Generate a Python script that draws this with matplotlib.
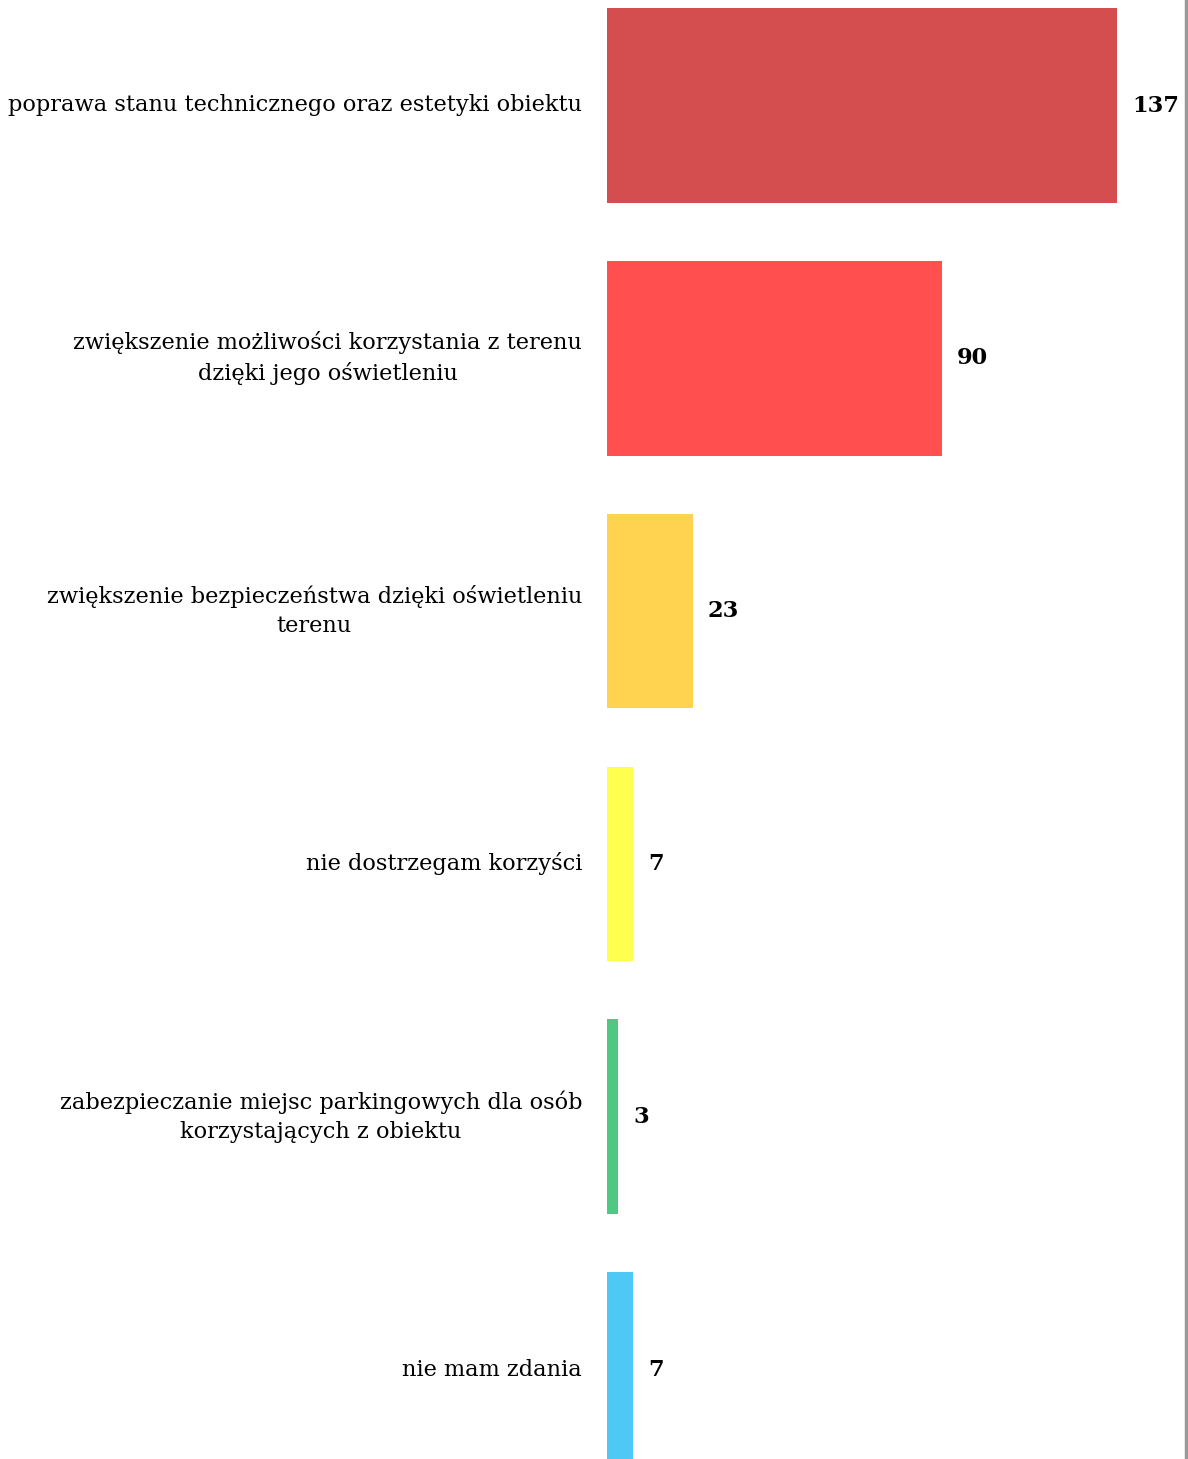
import matplotlib.pyplot as plt
import numpy as np

categories = [
    'poprawa stanu technicznego oraz estetyki obiektu',
    'zwiększenie możliwości korzystania z terenu\ndzięki jego oświetleniu',
    'zwiększenie bezpieczeństwa dzięki oświetleniu\nterenu',
    'nie dostrzegam korzyści',
    'zabezpieczanie miejsc parkingowych dla osób\nkorzystających z obiektu',
    'nie mam zdania',
]
values = [137, 90, 23, 7, 3, 7]
colors = ['#D44E4F', '#FF4F4F', '#FFD24F', '#FFFF4F', '#4EC882', '#4EC8F4']

W, H = 1188, 1459
fig = plt.figure(figsize=(W / 100, H / 100), dpi=100)
# axes placed in pixel coordinates
left_px, right_px = 607, 1186
ax = fig.add_axes([left_px / W, 0, (right_px - left_px) / W, 1])

y = np.arange(len(values))
ax.barh(y, values, height=0.77, color=colors)

px_per_unit = 510 / 137
ax.set_xlim(0, (right_px - left_px) / px_per_unit)
pitch = 252.8
ax.set_ylim((H - 105.5) / pitch, -105.5 / pitch)

for s in ['top', 'left', 'bottom']:
    ax.spines[s].set_visible(False)
ax.spines['right'].set_color('#999999')
ax.spines['right'].set_linewidth(2.5)
ax.set_xticks([])
ax.set_yticks([])

for i, (lab, v) in enumerate(zip(categories, values)):
    ax.text(-25 / px_per_unit, i, lab, ha='right', va='center', multialignment='center',
            fontsize=16.2, family='DejaVu Serif', linespacing=1.45)
    ax.text(v + 15 / px_per_unit, i, str(v), ha='left', va='center',
            fontsize=16.2, fontweight='bold', family='DejaVu Serif')

fig.savefig('out.png', dpi=100)
